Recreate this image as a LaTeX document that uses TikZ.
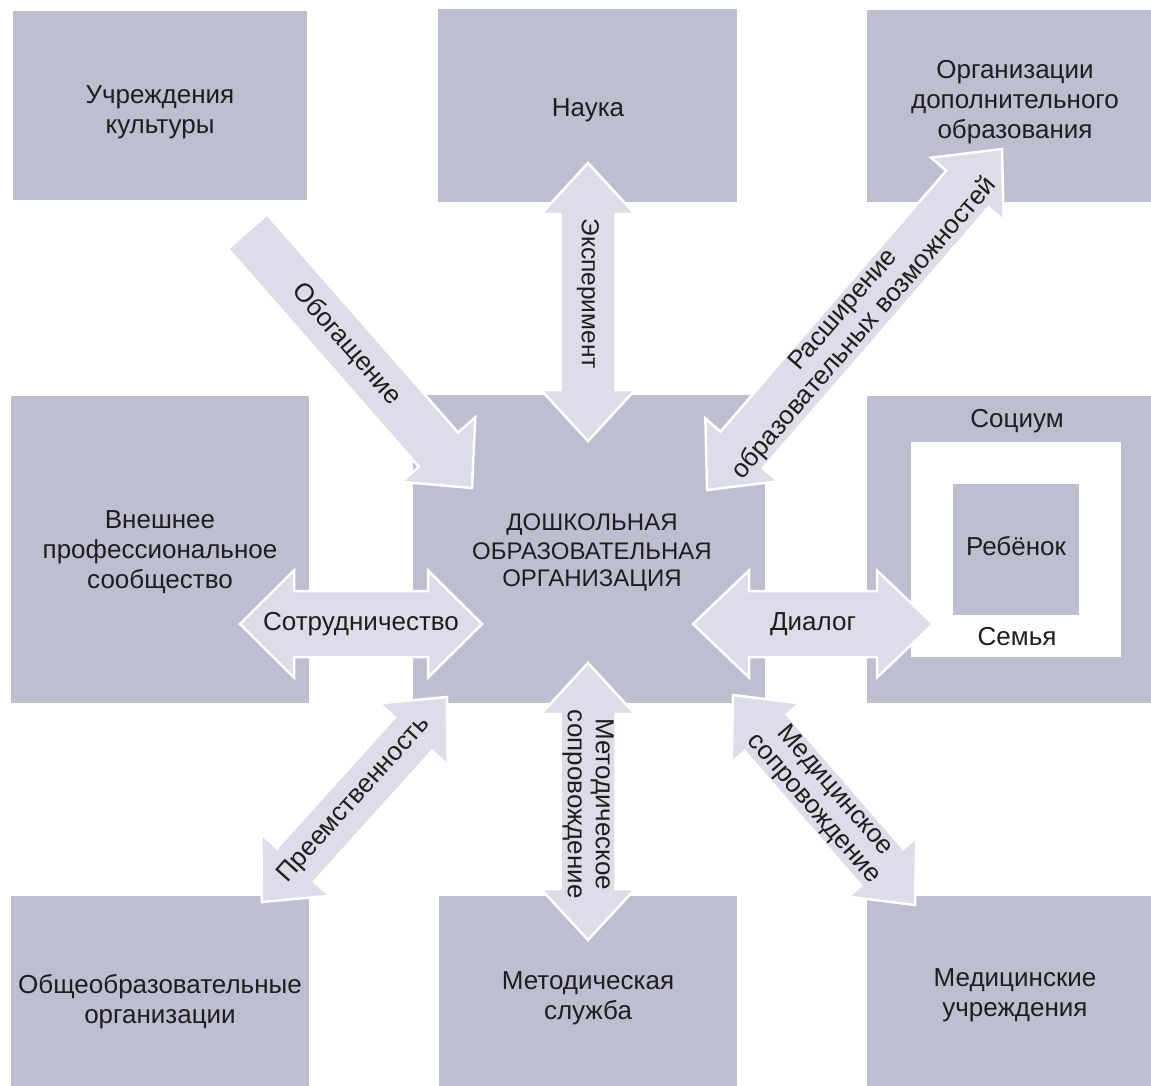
\documentclass[tikz,border=0pt]{standalone}
\usepackage{fontspec}
\setmainfont{Liberation Sans}
\usetikzlibrary{calc}
\definecolor{boxc}{HTML}{BDBED0}
\definecolor{arrc}{HTML}{DCDDE8}
\definecolor{txtc}{HTML}{1E1E1E}
% double-headed block arrow: #1 tip A, #2 tip B, #3 head length, #4 shaft half width, #5 head half width
\newcommand\twohead[5]{%
  \coordinate (tmpP) at ($(#1)!#3!(#2)$);
  \coordinate (tmpQ) at ($(#2)!#3!(#1)$);
  \draw[arrowshape] (#1) -- ($(tmpP)!#5!90:(#2)$) -- ($(tmpP)!#4!90:(#2)$)
    -- ($(tmpQ)!#4!-90:(#1)$) -- ($(tmpQ)!#5!-90:(#1)$) -- (#2)
    -- ($(tmpQ)!#5!90:(#1)$) -- ($(tmpQ)!#4!90:(#1)$)
    -- ($(tmpP)!#4!-90:(#2)$) -- ($(tmpP)!#5!-90:(#2)$) -- cycle;}
% single-headed block arrow: #1 tail centre, #2 tip
\newcommand\onehead[5]{%
  \coordinate (tmpQ) at ($(#2)!#3!(#1)$);
  \draw[arrowshape] ($(#1)!#4!90:(#2)$) -- ($(tmpQ)!#4!-90:(#1)$)
    -- ($(tmpQ)!#5!-90:(#1)$) -- (#2) -- ($(tmpQ)!#5!90:(#1)$)
    -- ($(tmpQ)!#4!90:(#1)$) -- ($(#1)!#4!-90:(#2)$) -- cycle;}
\tikzset{
  orgbox/.style={fill=boxc, draw=none, inner sep=0pt},
  whitebox/.style={fill=white, draw=none, inner sep=0pt},
  boxtext/.style={text=txtc, align=center, inner sep=0pt, font=\fontsize{26}{30}\selectfont},
  arrowshape/.style={fill=arrc, draw=white, line width=2.5pt, line join=miter},
  lbl/.style={text=txtc, align=center, inner sep=0pt, font=\fontsize{26}{28}\selectfont},
}
\begin{document}
\begin{tikzpicture}[x=1pt, y=-1pt]
\useasboundingbox (0,0) rectangle (1151,1085);
% boxes
\node[orgbox, minimum width=294pt, minimum height=189pt] (kult) at (160,105.5) {};
\node[orgbox, minimum width=299pt, minimum height=193pt] (nauka) at (587.5,105.5) {};
\node[orgbox, minimum width=293pt, minimum height=192pt] (dop) at (1013.5,106) {};
\node[orgbox, minimum width=298pt, minimum height=307pt] (vnesh) at (160,549.5) {};
\node[orgbox, minimum width=352pt, minimum height=308pt] (dou) at (589,549) {};
\node[orgbox, minimum width=293pt, minimum height=307pt] (socium) at (1013.5,549.5) {};
\node[whitebox, minimum width=210pt, minimum height=215pt] (semya) at (1016,549.5) {};
\node[orgbox, minimum width=126pt, minimum height=131pt] (rebenok) at (1016,549.5) {};
\node[orgbox, minimum width=298pt, minimum height=204pt] (obsh) at (160,998) {};
\node[orgbox, minimum width=298pt, minimum height=204pt] (metod) at (588,998) {};
\node[orgbox, minimum width=293pt, minimum height=204pt] (med) at (1013.5,998) {};
% box texts
\node[boxtext] (kulttext) at (160,112.5) {Учреждения\\культуры};
\node[boxtext] (naukatext) at (588,110.5) {Наука};
\node[boxtext] (doptext) at (1015,102.5) {Организации\\дополнительного\\образования};
\node[boxtext] (vneshtext) at (160,552.5) {Внешнее\\профессиональное\\сообщество};
\node[text=txtc, align=center, inner sep=0pt, font=\fontsize{24}{28}\selectfont] (doutext) at (592,553) {ДОШКОЛЬНАЯ\\ОБРАЗОВАТЕЛЬНАЯ\\ОРГАНИЗАЦИЯ};
\node[boxtext] (sociumtext) at (1017,421) {Социум};
\node[boxtext] (rebenoktext) at (1016,546.5) {Ребёнок};
\node[boxtext] (semyatext) at (1017,637) {Семья};
\node[boxtext] (obshtext) at (160,1002) {Общеобразовательные\\организации};
\node[boxtext] (metodtext) at (588,998) {Методическая\\служба};
\node[boxtext] (medtext) at (1015,995) {Медицинские\\учреждения};
% arrow end points
\coordinate (obA) at (247.5,231.5); \coordinate (obB) at (472,488);
\coordinate (exA) at (588,163);     \coordinate (exB) at (588,441);
\coordinate (raA) at (707,490);     \coordinate (raB) at (1002,149);
\coordinate (soA) at (240,624);     \coordinate (soB) at (482,624);
\coordinate (diA) at (693,624);     \coordinate (diB) at (933,624);
\coordinate (prA) at (262,902);     \coordinate (prB) at (447,697);
\coordinate (meA) at (588,663);     \coordinate (meB) at (588,940);
\coordinate (mdA) at (733,695);     \coordinate (mdB) at (915,905);
% arrows
\onehead{obA}{obB}{51pt}{26pt}{49pt}
\twohead{exA}{exB}{51pt}{27.5pt}{47pt}
\twohead{raA}{raB}{53pt}{28pt}{48pt}
\twohead{soA}{soB}{54pt}{33pt}{53.5pt}
\twohead{diA}{diB}{56pt}{33pt}{53.5pt}
\twohead{prA}{prB}{50pt}{25pt}{46pt}
\twohead{meA}{meB}{51pt}{27.5pt}{47pt}
\twohead{mdA}{mdB}{50pt}{28pt}{45pt}
% arrow labels
\node[lbl, rotate=-48.8] (obl) at ($(obA)!0.44!(obB)$) {Обогащение};
\node[lbl, rotate=-90, font=\fontsize{24.5}{28}\selectfont] (exl) at ($(exA)!0.47!(exB)$) {Эксперимент};
\node[lbl, rotate=49.1] (ral) at ($(raA)!0.5!(raB)$) {Расширение\\образовательных возможностей};
\node[lbl] (sol) at ($(soA)!0.5!(soB)$) {Сотрудничество};
\node[lbl] (dil) at ($(diA)!0.5!(diB)$) {Диалог};
\node[lbl, rotate=47.9] (prl) at ($(prA)!0.5!(prB)$) {Преемственность};
\node[lbl, rotate=-90] (mel) at ($(meA)!0.51!(meB)$) {Методическое\\сопровождение};
\node[lbl, rotate=-49.1] (mdl) at ($(mdA)!0.5!(mdB)$) {Медицинское\\сопровождение};
\end{tikzpicture}
\end{document}
